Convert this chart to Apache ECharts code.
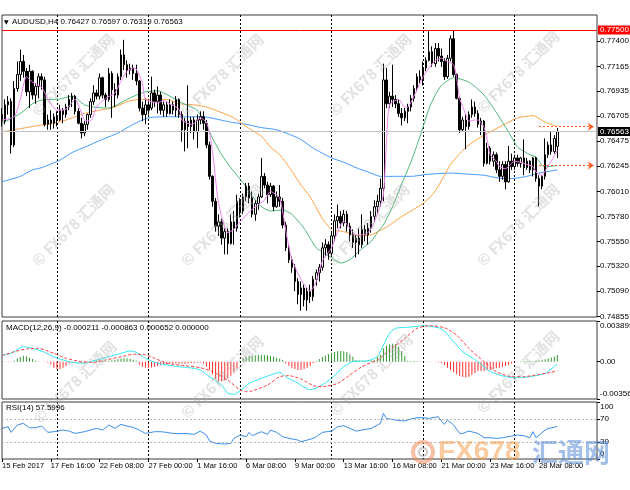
<!DOCTYPE html>
<html><head><meta charset="utf-8">
<script src="https://cdn.jsdelivr.net/npm/echarts@6/dist/echarts.min.js"></script>
<style>html,body{margin:0;padding:0;background:#fff}#c{width:630px;height:490px}</style>
</head><body><div id="c"></div>
<script>
// ---------- DATA ----------
// candles: [open, close, low, high], one per H4 bar starting 15 Feb 2017 00:00
const candles = [
[.7672,.7666,.7661,.7678],[.7666,.7681,.7663,.7686],[.7681,.7684,.7672,.7689],[.7684,.7644,.7636,.7687],
[.7644,.7696,.7642,.7703],[.7696,.7709,.7693,.7721],[.7709,.7721,.7703,.7732],[.7721,.7712,.7706,.7727],
[.7712,.7693,.7689,.7715],[.7693,.7712,.7678,.7718],[.7712,.7690,.7686,.7713],[.7690,.7698,.7682,.7701],
[.7698,.7707,.7687,.7710],[.7707,.7704,.7695,.7710],[.7704,.7663,.7661,.7707],[.7663,.7667,.7658,.7672],
[.7667,.7664,.7658,.7676],[.7664,.7670,.7659,.7673],[.7670,.7667,.7661,.7675],[.7667,.7676,.7666,.7681],
[.7676,.7672,.7664,.7678],[.7672,.7679,.7669,.7682],[.7679,.7686,.7676,.7690],[.7686,.7689,.7679,.7692],
[.7689,.7675,.7672,.7690],[.7675,.7664,.7663,.7678],[.7664,.7655,.7650,.7669],[.7655,.7663,.7652,.7666],
[.7663,.7672,.7658,.7673],[.7672,.7684,.7669,.7687],[.7684,.7692,.7681,.7699],[.7692,.7689,.7686,.7695],
[.7689,.7706,.7686,.7710],[.7706,.7690,.7687,.7707],[.7690,.7686,.7679,.7692],[.7686,.7710,.7684,.7715],
[.7710,.7695,.7669,.7712],[.7695,.7690,.7679,.7701],[.7690,.7707,.7687,.7710],[.7707,.7727,.7704,.7732],
[.7727,.7718,.7713,.7741],[.7718,.7713,.7706,.7722],[.7713,.7715,.7709,.7719],[.7715,.7710,.7704,.7718],
[.7710,.7703,.7699,.7718],[.7703,.7678,.7675,.7704],[.7678,.7672,.7666,.7684],[.7672,.7681,.7663,.7687],
[.7681,.7676,.7672,.7686],[.7678,.7692,.7676,.7707],[.7692,.7684,.7679,.7695],[.7684,.7690,.7673,.7698],
[.7690,.7676,.7672,.7693],[.7676,.7681,.7670,.7684],[.7681,.7673,.7670,.7684],[.7673,.7681,.7672,.7686],
[.7681,.7676,.7672,.7684],[.7676,.7686,.7670,.7689],[.7686,.7672,.7669,.7687],[.7672,.7658,.7647,.7675],
[.7658,.7666,.7638,.7669],[.7666,.7661,.7641,.7699],[.7661,.7667,.7655,.7670],[.7667,.7656,.7649,.7670],
[.7656,.7667,.7641,.7672],[.7667,.7670,.7663,.7675],[.7670,.7664,.7658,.7675],[.7664,.7644,.7641,.7667],
[.7644,.7615,.7612,.7647],[.7615,.7592,.7587,.7616],[.7592,.7569,.7564,.7595],[.7569,.7573,.7560,.7580],
[.7573,.7558,.7552,.7576],[.7558,.7564,.7543,.7567],[.7564,.7553,.7543,.7567],[.7553,.7573,.7552,.7580],
[.7573,.7567,.7552,.7583],[.7567,.7592,.7564,.7598],[.7592,.7583,.7577,.7595],[.7583,.7596,.7580,.7599],
[.7596,.7606,.7592,.7609],[.7606,.7595,.7590,.7609],[.7595,.7580,.7577,.7601],[.7580,.7590,.7574,.7593],
[.7590,.7596,.7584,.7599],[.7596,.7615,.7595,.7632],[.7615,.7607,.7604,.7618],[.7607,.7598,.7590,.7610],
[.7598,.7606,.7596,.7609],[.7606,.7587,.7583,.7607],[.7587,.7596,.7586,.7601],[.7596,.7592,.7587,.7607],
[.7592,.7570,.7567,.7595],[.7570,.7549,.7546,.7573],[.7549,.7538,.7535,.7552],[.7538,.7531,.7526,.7541],
[.7531,.7518,.7509,.7534],[.7518,.7506,.7497,.7521],[.7506,.7512,.7491,.7518],[.7512,.7501,.7495,.7515],
[.7501,.7509,.7491,.7512],[.7509,.7504,.7498,.7515],[.7504,.7520,.7500,.7523],[.7520,.7526,.7514,.7529],
[.7526,.7531,.7518,.7534],[.7531,.7549,.7528,.7554],[.7549,.7552,.7541,.7557],[.7552,.7544,.7538,.7555],
[.7544,.7560,.7541,.7564],[.7560,.7574,.7555,.7580],[.7574,.7578,.7567,.7589],[.7578,.7572,.7567,.7583],
[.7572,.7580,.7569,.7584],[.7580,.7569,.7564,.7583],[.7569,.7561,.7555,.7572],[.7561,.7554,.7549,.7566],
[.7554,.7558,.7540,.7561],[.7558,.7552,.7543,.7567],[.7552,.7566,.7549,.7580],[.7566,.7561,.7555,.7570],
[.7561,.7567,.7552,.7572],[.7567,.7578,.7563,.7583],[.7578,.7587,.7573,.7593],[.7587,.7592,.7580,.7598],
[.7592,.7604,.7587,.7613],[.7604,.7704,.7592,.7719],[.7704,.7682,.7678,.7715],[.7682,.7689,.7678,.7693],
[.7689,.7686,.7679,.7718],[.7686,.7682,.7678,.7690],[.7682,.7673,.7670,.7686],[.7673,.7669,.7662,.7678],
[.7669,.7675,.7666,.7678],[.7675,.7679,.7664,.7682],[.7679,.7687,.7675,.7690],[.7687,.7696,.7684,.7699],
[.7696,.7707,.7693,.7710],[.7707,.7704,.7701,.7713],[.7704,.7715,.7699,.7721],[.7715,.7722,.7712,.7725],
[.7722,.7730,.7721,.7749],[.7730,.7719,.7716,.7735],[.7719,.7733,.7716,.7738],[.7733,.7726,.7721,.7738],
[.7726,.7721,.7716,.7733],[.7721,.7707,.7704,.7724],[.7707,.7724,.7705,.7727],[.7724,.7742,.7721,.7745],
[.7742,.7709,.7707,.7750],[.7709,.7687,.7686,.7710],[.7687,.7658,.7655,.7689],[.7658,.7667,.7656,.7670],
[.7667,.7661,.7640,.7672],[.7661,.7672,.7658,.7675],[.7672,.7679,.7669,.7686],[.7679,.7673,.7670,.7684],
[.7673,.7663,.7660,.7676],[.7663,.7666,.7653,.7669],[.7666,.7627,.7624,.7667],[.7627,.7641,.7626,.7646],
[.7641,.7629,.7626,.7643],[.7629,.7635,.7624,.7638],[.7635,.7621,.7618,.7637],[.7621,.7615,.7610,.7629],
[.7615,.7626,.7612,.7629],[.7626,.7610,.7603,.7629],[.7610,.7629,.7609,.7643],[.7629,.7624,.7621,.7636],
[.7624,.7632,.7621,.7635],[.7632,.7627,.7624,.7635],[.7627,.7632,.7623,.7633],[.7632,.7623,.7616,.7649],
[.7623,.7629,.7621,.7632],[.7629,.7621,.7618,.7630],[.7621,.7632,.7615,.7633],[.7632,.7613,.7610,.7633],
[.7613,.7606,.7587,.7616],[.7606,.7615,.7603,.7616],[.7615,.7635,.7612,.7650],[.7635,.7644,.7632,.7647],
[.7644,.7638,.7635,.7656],[.7638,.7650,.7636,.7653],[.76427,.76563,.76319,.76597]
];
// moving averages: [barIndex, price]
const maPink = [[0,.7667],[4,.7670],[6,.7686],[8,.7707],[10,.7702],[13,.7697],[16,.7682],[18,.7676],[21,.7677],[24,.7686],[27,.7667],[29,.7666],[31,.7679],[34,.7687],[37,.7692],[39,.7703],[41,.7712],[43,.7715],[44,.7714],[46,.7701],[47,.7686],[51,.7683],[53,.7685],[55,.7682],[58,.7677],[59,.7667],[62,.7663],[63,.7664],[65,.7669],[67,.7665],[68,.7655],[69,.7638],[71,.7590],[74,.7563],[76,.7566],[78,.7573],[81,.7582],[84,.7589],[86,.7593],[88,.7601],[91,.7595],[93,.7565],[95,.7538],[98,.7520],[101,.7509],[103,.7518],[105,.7537],[108,.7549],[110,.7564],[112,.7574],[114,.7567],[116,.7561],[119,.7561],[121,.7567],[123,.7580],[125,.7598],[126,.7647],[127,.7681],[130,.7686],[132,.7679],[133,.7679],[135,.7689],[137,.7701],[138,.7707],[140,.7715],[142,.7722],[144,.7724],[146,.7721],[148,.7718],[149,.7706],[150,.7687],[152,.7672],[153,.7666],[155,.7667],[156,.7667],[158,.7660],[159,.7649],[160,.7635],[162,.7629],[163,.7624],[165,.7622],[166,.7624],[168,.7629],[170,.7628],[172,.7626],[174,.7624],[175,.7619],[177,.7616],[178,.7620],[180,.7629],[182,.7639]];
const maGreen = [[0,.7664],[6,.7673],[10,.7682],[14,.7686],[18,.7686],[23,.7689],[27,.7681],[30,.7679],[35,.7678],[41,.7686],[44,.7690],[47,.7693],[51,.7694],[55,.7689],[58,.7684],[62,.7679],[64,.7676],[67,.7662],[69,.7650],[72,.7635],[75,.7623],[79,.7609],[82,.7597],[85,.7587],[88,.7583],[92,.7584],[95,.7580],[99,.7567],[101,.7558],[103,.7549],[108,.7540],[111,.7535],[114,.7538],[117,.7546],[121,.7555],[123,.7563],[125,.7570],[128,.7587],[131,.7608],[134,.7628],[137,.7652],[140,.7678],[142,.7690],[144,.7699],[148,.7706],[153,.7702],[158,.7690],[162,.7674],[166,.7656],[169,.7642],[173,.7635],[175,.7633],[177,.7625],[179,.7624],[182,.7625]];
const maOrange = [[0,.7656],[6,.7659],[12,.7662],[17,.7664],[21,.7667],[27,.7673],[32,.7676],[37,.7679],[41,.7684],[45,.7686],[50,.7686],[54,.7686],[58,.7682],[63,.7681],[67,.7679],[70,.7676],[76,.7669],[80,.7661],[85,.7652],[88,.7642],[91,.7635],[94,.7624],[98,.7607],[101,.7596],[105,.7576],[108,.7566],[112,.7564],[117,.7560],[121,.7561],[124,.7565],[127,.7570],[130,.7576],[134,.7583],[138,.7590],[141,.7598],[143,.7606],[145,.7616],[147,.7626],[150,.7636],[153,.7644],[158,.7653],[164,.7662],[169,.7669],[174,.7671],[178,.7665],[182,.7661]];
const maBlue = [[0,.7610],[6,.7615],[10,.7621],[13,.7623],[19,.7630],[23,.7637],[28,.7643],[32,.7648],[38,.7655],[43,.7663],[48,.7669],[54,.7670],[60,.7670],[66,.7670],[70,.7668],[75,.7665],[80,.7663],[85,.7660],[90,.7658],[94,.7654],[98,.7649],[102,.7641],[108,.7632],[112,.7628],[116,.7623],[120,.7619],[124,.7615],[128,.7615],[134,.7615],[140,.7617],[147,.7618],[153,.7617],[158,.7616],[164,.7613],[167,.7613],[172,.7615],[176,.7618],[182,.7621]];
// MACD histogram per bar
const macdHist = [.00005,-.00003,-.00005,.00002,.0001,.0003,.00045,.00058,.00052,.00039,.00026,.0001,.00003,.00001,-.00002,-.00008,
-.00025,-.00057,-.0007,-.0007,-.00057,-.00038,-.00018,-.00012,-.00008,-.0001,-.00012,-.0001,-.00005,.00003,.00008,.0001,
.00012,.0001,.00008,.0001,.00015,.0002,.00025,.0003,.00033,.00032,.00028,.0002,.0001,-.0003,-.00047,-.00057,
-.00057,-.00054,-.00047,-.0004,-.00034,-.00031,-.00025,-.0002,-.00018,-.00017,-.00016,-.00018,-.0002,-.00018,-.00015,-.00012,
-.0001,-.00008,-.0002,-.00047,-.00079,-.0012,-.00165,-.0019,-.0019,-.00178,-.00159,-.00133,-.00101,-.00063,.0001,.00033,
.00048,.00055,.00058,.00061,.00064,.00064,.00064,.00061,.00055,.00048,.00039,.00029,.00017,-.00015,-.00038,-.00057,
-.0007,-.00079,-.00079,-.0007,-.00057,-.00038,-.00015,.00007,.00026,.00045,.00058,.00071,.00084,.00093,.001,.00103,
.001,.0009,.00071,.00048,.00017,.00012,.0001,.0001,.00012,.00015,.00017,.00048,.00064,.00128,.00154,.00167,
.00173,.00167,.00144,.00103,.00058,.0001,.00008,.00006,.00005,.00004,.00003,.00003,.00002,0,-.00003,-.00008,
-.00012,-.00031,-.00057,-.00079,-.00101,-.0012,-.00137,-.00146,-.00152,-.00143,-.00127,-.00108,-.00089,-.00089,-.00089,-.00082,
-.00079,-.00073,-.00063,-.00057,-.0005,-.0004,-.00031,-.00018,-.00009,.00003,.00005,.00006,.00006,.00007,.00008,.0001,
.00013,.00018,.00024,.0003,.0004,.0005,.000652];
const macdMain = [[0,.00064],[3,.0008],[7,.00144],[10,.00128],[14,.0009],[17,.00048],[20,.00017],[23,-.00006],[27,-.00015],[29,.00001],[32,.00023],[35,.00048],[39,.0008],[42,.00103],[44,.0009],[47,.00033],[51,-.00015],[54,-.00031],[58,-.00047],[63,-.00063],[65,-.00079],[68,-.00143],[72,-.00223],[74,-.00302],[76,-.00312],[78,-.0028],[81,-.00207],[85,-.00159],[88,-.00127],[91,-.00101],[93,-.00143],[97,-.00207],[100,-.00261],[101,-.00268],[104,-.00239],[108,-.00159],[112,-.00047],[115,.00001],[120,.0001],[123,.00048],[125,.0016],[127,.00272],[129,.0032],[134,.00332],[138,.00345],[143,.00326],[145,.00294],[148,.00192],[151,.00096],[156,.00001],[160,-.00095],[165,-.00143],[169,-.00152],[173,-.00143],[178,-.00111],[182,-.000211]];
const macdSignal = [[0,.00058],[4,.00096],[8,.00122],[12,.00128],[17,.0008],[21,.00033],[26,.00001],[30,-.00006],[34,.00017],[39,.00048],[43,.00071],[46,.00071],[50,.00033],[54,-.00015],[60,-.00038],[65,-.00057],[69,-.00095],[74,-.00175],[78,-.00271],[80,-.00286],[82,-.0028],[87,-.00223],[91,-.00143],[94,-.00133],[98,-.00165],[102,-.00229],[105,-.00239],[110,-.00207],[114,-.00127],[118,-.00047],[123,.00017],[127,.00112],[132,.00224],[136,.0032],[140,.00345],[145,.00326],[149,.00256],[153,.00128],[158,.00001],[162,-.00095],[167,-.00143],[171,-.00143],[175,-.00127],[180,-.00101],[182,-.000863]];
const rsi = [[0,53.7],[2,56.6],[3,46.7],[5,59.6],[7,62.5],[9,54.9],[11,54.9],[13,57.8],[15,46.7],[17,47.9],[20,50.8],[22,49],[24,44.9],[27,47.9],[29,50.8],[31,53.7],[33,50.8],[35,59.6],[37,53.7],[39,60.7],[41,57.8],[43,55.5],[45,50.8],[47,44.9],[50,47.9],[52,47.9],[54,46.7],[56,44.9],[58,44.3],[60,44.9],[63,43.2],[65,49],[67,42],[68,31.5],[70,27.4],[73,26.2],[75,27.4],[76,36.2],[78,42],[80,39.1],[81,46.7],[82,40.8],[85,47.9],[87,43.2],[88,50.8],[90,46.7],[92,39.1],[94,36.2],[97,33.2],[98,30.3],[100,33.2],[102,36.2],[103,39.1],[105,46.7],[108,49],[110,56.6],[112,58.4],[114,53.7],[116,49],[118,50.8],[121,53.7],[123,59.6],[124,62.5],[125,80],[126,71.2],[129,68.3],[132,66.6],[134,70.1],[136,72.4],[138,72.4],[140,71.2],[143,74.2],[144,66.6],[145,60.7],[146,68.3],[148,59.6],[150,44.9],[151,44.9],[153,49],[156,44.9],[158,37.3],[160,37.3],[162,36.2],[164,37.3],[167,40.2],[169,42],[171,40.8],[173,37.3],[174,47.9],[175,37.3],[178,50.8],[179,53.7],[181,55.5],[182,57.6]];
// axes / reference levels
const nSlots = 196;
const categories = Array.from({length: nSlots}, (_, i) => String(i));
const weekStartIdx = [18, 48, 78, 108, 138, 168];
const xTickIdx = [0,16,32,48,64,80,96,112,128,144,160,176];
const xTickLabels = ['15 Feb 2017','17 Feb 16:00','22 Feb 08:00','27 Feb 00:00','1 Mar 16:00','6 Mar 08:00','9 Mar 00:00','13 Mar 16:00','16 Mar 08:00','21 Mar 00:00','23 Mar 16:00','28 Mar 08:00'];
const priceTicks = [0.77400,0.77165,0.76935,0.76705,0.76475,0.76245,0.76010,0.75780,0.75550,0.75320,0.75090,0.74855];
const macdTicks = [0.003899, 0, -0.003566];
const macdTickLabels = ['0.003899', '0.00', '-0.003566'];
const rsiTicks = [100, 70, 30, 0];
const rsiLevels = [70, 30];
const resistance = 0.77500;
const lastPrice = 0.76563;
const arrowLevels = [0.76608, 0.76250];
const headerMain = 'AUDUSD,H4 0.76427 0.76597 0.76319 0.76563';
const headerMacd = 'MACD(12,26,9) -0.000211 -0.000863 0.000652 0.000000';
const headerRsi = 'RSI(14) 57.5996';

// ---------- CHART ----------
const F = "'Liberation Sans',Arial,sans-serif";
const chart = echarts.init(document.getElementById('c'), null, {renderer: 'canvas', width: 630, height: 490});
const gridBase = {left: 2, right: 33, show: true, borderColor: '#3a3a3a', borderWidth: 1, containLabel: false, outerBoundsMode: 'none', backgroundColor: 'transparent'};
function xAx(gi, showLabels) {
  return {
    type: 'category', gridIndex: gi, data: categories, boundaryGap: false,
    axisLine: {show: false},
    axisTick: showLabels ? {show: true, length: 3, interval: (i) => xTickIdx.indexOf(i) >= 0, lineStyle: {color: '#000'}} : {show: false},
    axisLabel: showLabels ? {
      show: true, interval: (i) => xTickIdx.indexOf(i) >= 0, align: 'left', margin: 3,
      fontFamily: F, fontSize: 7.5, color: '#000',
      formatter: (v) => { const k = xTickIdx.indexOf(Number(v)); return k >= 0 ? xTickLabels[k] : ''; }
    } : {show: false},
    splitLine: {show: true, interval: (i) => weekStartIdx.indexOf(i) >= 0, lineStyle: {color: '#000', type: [2, 2], width: 1}}
  };
}
const yLabelBase = {fontFamily: F, fontSize: 8, color: '#000', margin: 3};
const edgeRich = {
  dn: {fontFamily: F, fontSize: 8, color: '#000', padding: [10, 0, 0, 0]},
  up: {fontFamily: F, fontSize: 8, color: '#000', padding: [0, 0, 10, 0]},
  mid: {fontFamily: F, fontSize: 8, color: '#000'}
};
function nearestIdx(arr, v) { let b = 0, d = Infinity; arr.forEach((t, k) => { if (Math.abs(t - v) < d) { d = Math.abs(t - v); b = k; } }); return b; }
const option = {
  animation: false,
  backgroundColor: '#fff',
  grid: [
    Object.assign({}, gridBase, {top: 15, height: 302}),
    Object.assign({}, gridBase, {top: 321, height: 78}),
    Object.assign({}, gridBase, {top: 402, height: 57})
  ],
  xAxis: [xAx(0, false), xAx(1, false), xAx(2, true)],
  yAxis: [
    {type: 'value', gridIndex: 0, position: 'right', min: 0.74852, max: 0.77639,
     axisLine: {show: false}, splitLine: {show: false},
     axisTick: {show: true, length: 3, customValues: priceTicks, lineStyle: {color: '#000'}},
     axisLabel: Object.assign({customValues: priceTicks, formatter: (v) => v.toFixed(5)}, yLabelBase)},
    {type: 'value', gridIndex: 1, position: 'right', min: -0.003566, max: 0.003899,
     axisLine: {show: false}, splitLine: {show: false},
     axisTick: {show: true, length: 3, customValues: macdTicks, lineStyle: {color: '#000'}},
     axisLabel: Object.assign({customValues: macdTicks, rich: edgeRich,
       formatter: (v) => { const k = nearestIdx(macdTicks, v); const s = k === 0 ? 'dn' : (k === macdTicks.length - 1 ? 'up' : 'mid'); return '{' + s + '|' + macdTickLabels[k] + '}'; }}, yLabelBase)},
    {type: 'value', gridIndex: 2, position: 'right', min: 0, max: 100,
     axisLine: {show: false}, splitLine: {show: false},
     axisTick: {show: true, length: 3, customValues: rsiTicks, lineStyle: {color: '#000'}},
     axisLabel: Object.assign({customValues: rsiTicks, rich: edgeRich,
       formatter: (v) => { const r = Math.round(v); const s = r === 100 ? 'dn' : (r === 0 ? 'up' : 'mid'); return '{' + s + '|' + r + '}'; }}, yLabelBase)}
  ],
  series: [
    {type: 'line', xAxisIndex: 0, yAxisIndex: 0, data: maBlue, symbol: 'none', smooth: 0.2, lineStyle: {color: '#3f9cff', width: 1}, z: 2,
     markLine: {
       silent: true, symbol: ['none', 'none'], animation: false, precision: 5,
       data: [
         {yAxis: resistance, lineStyle: {color: '#ff0000', type: 'solid', width: 1},
          label: {show: true, position: 'end', formatter: resistance.toFixed(5), backgroundColor: '#ff0000', color: '#fff', fontFamily: F, fontSize: 8, padding: [1, 2, 0, 2], distance: 1}},
         {yAxis: lastPrice, lineStyle: {color: '#c0c0c0', type: 'solid', width: 1},
          label: {show: true, position: 'end', formatter: lastPrice.toFixed(5), backgroundColor: '#000', color: '#fff', fontFamily: F, fontSize: 8, padding: [1, 2, 0, 2], distance: 1}},
         [{coord: [176, arrowLevels[0]], symbol: 'none'}, {coord: [194, arrowLevels[0]], symbol: 'arrow', symbolSize: 6,
           lineStyle: {color: '#ff5a1f', type: [2, 2], width: 1}, label: {show: false}}],
         [{coord: [176, arrowLevels[1]], symbol: 'none'}, {coord: [194, arrowLevels[1]], symbol: 'arrow', symbolSize: 6,
           lineStyle: {color: '#ff5a1f', type: [2, 2], width: 1}, label: {show: false}}]
       ]
     }},
    {type: 'line', xAxisIndex: 0, yAxisIndex: 0, data: maOrange, symbol: 'none', smooth: 0.2, lineStyle: {color: '#ffa040', width: 1}, z: 2},
    {type: 'line', xAxisIndex: 0, yAxisIndex: 0, data: maGreen, symbol: 'none', smooth: 0.2, lineStyle: {color: '#4cb878', width: 1}, z: 2},
    {type: 'candlestick', xAxisIndex: 0, yAxisIndex: 0, data: candles, barWidth: 2, z: 3,
     itemStyle: {color: '#ffffff', color0: '#000000', borderColor: '#000000', borderColor0: '#000000', borderWidth: 1}},
    {type: 'line', xAxisIndex: 0, yAxisIndex: 0, data: maPink, symbol: 'none', smooth: 0.2, lineStyle: {color: '#ee82ee', width: 1}, z: 4},
    {type: 'bar', xAxisIndex: 1, yAxisIndex: 1, data: macdHist, barWidth: 1,
     itemStyle: {color: (p) => p.value >= 0 ? '#2f9a2f' : '#ff3030'}},
    {type: 'line', xAxisIndex: 1, yAxisIndex: 1, data: macdMain, symbol: 'none', smooth: 0.2, lineStyle: {color: '#2fe8f5', width: 1}},
    {type: 'line', xAxisIndex: 1, yAxisIndex: 1, data: macdSignal, symbol: 'none', smooth: 0.2, lineStyle: {color: '#ff3b3b', width: 1, type: [3, 2]}},
    {type: 'line', xAxisIndex: 2, yAxisIndex: 2, data: rsi, symbol: 'none', lineStyle: {color: '#3c8ee8', width: 1},
     markLine: {silent: true, symbol: ['none', 'none'], label: {show: false}, precision: 2,
       lineStyle: {color: '#b8b8b8', type: [2, 2], width: 1},
       data: rsiLevels.map(v => ({yAxis: v}))}}
  ],
  graphic: [
    {type: 'text', x: 4, y: 22, z: 50, style: {text: '▼', font: '6px DejaVu Sans', fill: '#000', verticalAlign: 'middle'}},
    {type: 'text', x: 12, y: 22, z: 50, style: {text: headerMain, font: `8px ${F}`, fill: '#000', verticalAlign: 'middle'}},
    {type: 'text', x: 6, y: 328, z: 50, style: {text: headerMacd, font: `8px ${F}`, fill: '#000', verticalAlign: 'middle'}},
    {type: 'text', x: 6, y: 408, z: 50, style: {text: headerRsi, font: `8px ${F}`, fill: '#000', verticalAlign: 'middle'}}
  ].concat(
    [[73,75],[222,75],[370,75],[518,72],[73,225],[222,225],[368,225],[518,225],[75,382],[222,377],[371,375],[518,372]].map(([cx, cy]) => ({
      type: 'text', x: cx, y: cy, rotation: Math.PI / 4, z: 40,
      style: {text: '© FX678 汇通网', font: "bold 15px 'Noto Sans CJK SC', sans-serif", fill: 'rgba(170,170,170,0.35)', align: 'center', verticalAlign: 'middle'}
    }))
  ).concat([
    {type: 'circle', z: 60, shape: {cx: 423, cy: 452, r: 10}, style: {fill: 'none', stroke: 'rgba(240,130,80,0.5)', lineWidth: 4}},
    {type: 'circle', z: 60, shape: {cx: 423, cy: 452, r: 4}, style: {fill: 'none', stroke: 'rgba(150,150,150,0.5)', lineWidth: 2}},
    {type: 'text', x: 438, y: 452, z: 60, style: {text: 'FX678', font: "bold 28px 'Liberation Sans', Arial, sans-serif", fill: 'rgba(245,160,80,0.55)', verticalAlign: 'middle'}},
    {type: 'text', x: 532, y: 452, z: 60, style: {text: '汇通网', font: "bold 26px 'Noto Sans CJK SC', sans-serif", fill: 'rgba(90,140,215,0.55)', verticalAlign: 'middle'}}
  ])
};
chart.setOption(option);
</script>
</body></html>
